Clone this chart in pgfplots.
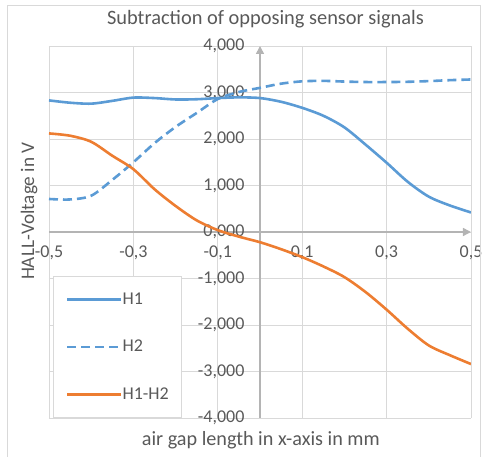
\documentclass[border=0pt]{standalone}
\usepackage{pgfplots}
\pgfplotsset{compat=1.18}
\usetikzlibrary{arrows.meta}
\usepackage{fontspec}
\setmainfont{Carlito}
\definecolor{txt}{HTML}{595959}
\definecolor{cblue}{HTML}{5B9BD5}
\definecolor{corange}{HTML}{ED7D31}
\definecolor{gridc}{HTML}{D9D9D9}
\definecolor{axc}{HTML}{B4B4B4}
\begin{document}
\begin{tikzpicture}
\draw[gridc, line width=1pt] (-41pt,-60pt) rectangle (431pt,412pt);
\begin{axis}[
  set layers,
  at={(0pt,0pt)}, anchor=south west,
  scale only axis, width=422pt, height=372pt,
  xmin=-0.5, xmax=0.5, ymin=-4, ymax=4,
  axis lines=center,
  axis line style={axc, line width=1.5pt, -{Triangle[length=8pt,width=8pt]}},
  xtick={-0.5,-0.3,-0.1,0.1,0.3,0.5},
  ytick={-4,-3,-2,-1,0,1,2,3,4},
  grid=major, major grid style={gridc, line width=0.9pt},
  major tick length=0pt,
  hide obscured x ticks=false, hide obscured y ticks=false,
  /pgf/number format/assume math mode=true,
  tick label style={font=\fontsize{18}{20}\selectfont, text=txt},
  xticklabel style={/pgf/number format/.cd, fixed, fixed zerofill, precision=1, use comma, /tikz/.cd, anchor=north, yshift=-10pt},
  yticklabel style={/pgf/number format/.cd, fixed, fixed zerofill, precision=3, use comma, 1000 sep={}, /tikz/.cd, anchor=east, xshift=-12pt},
  title={Subtraction of opposing sensor signals},
  title style={at={(axis description cs:0.513,1.0565)}, anchor=center, font=\fontsize{20.4}{24}\selectfont, text=txt},
  xlabel={air gap length in x-axis in mm},
  ylabel={HALL-Voltage in V},
  every axis x label/.style={at={(axis description cs:0.502,-0.059)}, anchor=center, font=\fontsize{20.2}{24}\selectfont, text=txt},
  every axis y label/.style={at={(axis description cs:-0.047,0.556)}, anchor=center, rotate=90, font=\fontsize{19.2}{24}\selectfont, text=txt},
  legend style={at={(axis description cs:0.0095,0)}, anchor=south west, draw=gridc, line width=0.9pt, fill=white,
    inner xsep=12.5pt, inner ysep=14.5pt, row sep=30.5pt, font=\fontsize{18}{20}\selectfont, text=txt,
    nodes={inner sep=0pt, text height=13pt, text depth=4pt},
    /tikz/every even column/.append style={column sep=5pt}},
  legend cell align=left,
  legend image code/.code={\draw[#1] (0pt,0pt) -- (54pt,0pt);},
]
\addplot[cblue, line width=2.6pt, smooth] coordinates {
(-0.5,2.830) (-0.45,2.780) (-0.4,2.760) (-0.35,2.820) (-0.3,2.890) (-0.25,2.880)
(-0.2,2.850) (-0.15,2.855) (-0.1,2.880) (-0.05,2.895) (0,2.880) (0.05,2.800)
(0.1,2.670) (0.15,2.500) (0.2,2.250) (0.25,1.880) (0.3,1.490) (0.35,1.080)
(0.4,0.760) (0.45,0.570) (0.5,0.420)};
\addplot[cblue, line width=2.6pt, dash pattern=on 9pt off 5pt, smooth] coordinates {
(-0.5,0.710) (-0.45,0.700) (-0.4,0.780) (-0.35,1.120) (-0.3,1.500) (-0.25,1.910)
(-0.2,2.260) (-0.15,2.560) (-0.1,2.860) (-0.05,3.010) (0,3.100) (0.05,3.190)
(0.1,3.240) (0.15,3.250) (0.2,3.235) (0.25,3.225) (0.3,3.225) (0.35,3.230)
(0.4,3.245) (0.45,3.265) (0.5,3.280)};
\addplot[corange, line width=2.6pt, smooth] coordinates {
(-0.5,2.120) (-0.45,2.070) (-0.4,1.940) (-0.35,1.640) (-0.3,1.350) (-0.25,0.920)
(-0.2,0.560) (-0.15,0.250) (-0.1,0.040) (-0.05,-0.100) (0,-0.220) (0.05,-0.370)
(0.1,-0.540) (0.15,-0.740) (0.2,-0.970) (0.25,-1.290) (0.3,-1.670) (0.35,-2.080)
(0.4,-2.440) (0.45,-2.650) (0.5,-2.840)};
\legend{H1,H2,H1-H2}
\end{axis}
\pgfresetboundingbox
\path[use as bounding box] (-49pt,-39pt) rectangle (434pt,418pt);
\end{tikzpicture}
\end{document}
